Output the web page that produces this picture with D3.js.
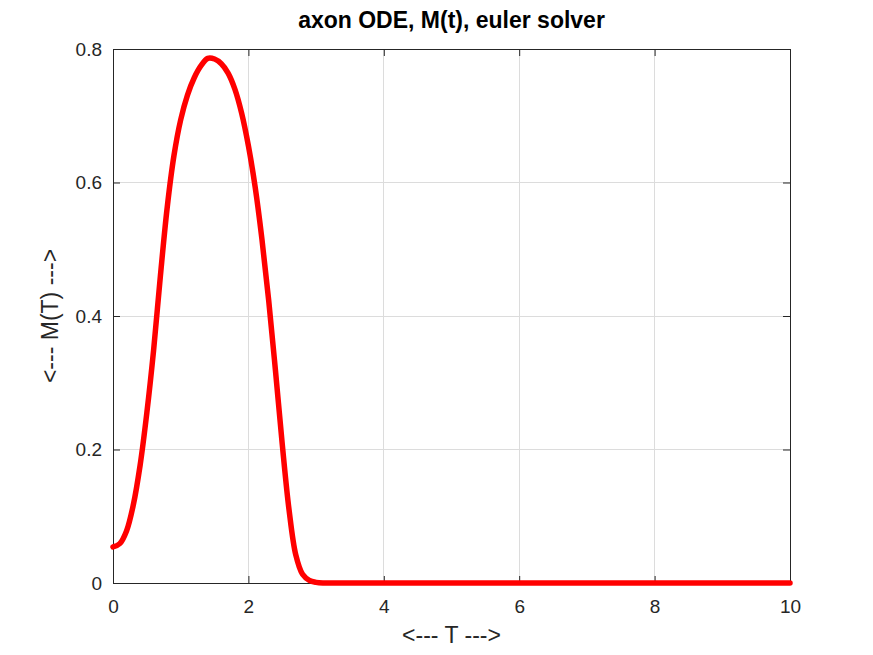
<!DOCTYPE html>
<html><head><meta charset="utf-8">
<script src="https://cdn.jsdelivr.net/npm/d3@7"></script>
<style>body{margin:0;background:#fff}svg{display:block}</style>
</head><body>
<script>
const tVals = [0,0.1,0.2,0.3,0.4,0.5,0.6,0.7,0.8,0.9,1.0,1.1,1.2,1.3,1.4,1.5,1.6,1.7,1.8,1.9,2.0,2.1,2.2,2.3,2.4,2.5,2.6,2.7,2.8,2.9,3.0,3.1,3.5,10];
const mVals = [0.054,0.059,0.078,0.117,0.176,0.255,0.349,0.460,0.562,0.640,0.694,0.731,0.757,0.775,0.786,0.785,0.778,0.764,0.740,0.704,0.655,0.593,0.515,0.423,0.318,0.208,0.110,0.042,0.013,0.004,0.001,0,0,0];
const xTicks = [0,2,4,6,8,10];
const yTicks = [0,0.2,0.4,0.6,0.8];
const title = "axon ODE, M(t), euler solver";
const xLabel = "<--- T --->";
const yLabel = "<--- M(T) --->";

const W=873,H=655, L=113,R=790,T=49,B=583;
const svg=d3.select("body").append("svg").attr("width",W).attr("height",H);
const x=d3.scaleLinear().domain([0,10]).range([L,R]);
const y=d3.scaleLinear().domain([0,0.8]).range([B,T]);
const font="'Liberation Sans', Arial, sans-serif";

// grid
svg.append("g").selectAll("line").data(xTicks).join("line")
  .attr("x1",d=>x(d)).attr("x2",d=>x(d)).attr("y1",T).attr("y2",B)
  .attr("stroke","#dcdcdc").attr("stroke-width",1).attr("shape-rendering","crispEdges");
svg.append("g").selectAll("line").data(yTicks).join("line")
  .attr("y1",d=>y(d)).attr("y2",d=>y(d)).attr("x1",L).attr("x2",R)
  .attr("stroke","#dcdcdc").attr("stroke-width",1).attr("shape-rendering","crispEdges");

// axes
const ax=(g)=>g.selectAll("path,line").attr("stroke","#262626");
const xb=svg.append("g").attr("transform",`translate(0,${B})`)
  .call(d3.axisBottom(x).tickValues(xTicks).tickSizeInner(-7).tickSizeOuter(0).tickPadding(17).tickFormat(d3.format("d")));
const xt=svg.append("g").attr("transform",`translate(0,${T})`)
  .call(d3.axisTop(x).tickValues(xTicks).tickSizeInner(-7).tickSizeOuter(0).tickFormat(""));
const yl=svg.append("g").attr("transform",`translate(${L},0)`)
  .call(d3.axisLeft(y).tickValues(yTicks).tickSizeInner(-7).tickSizeOuter(0).tickPadding(11).tickFormat(d=>d===0?"0":d3.format(".1f")(d)));
const yr=svg.append("g").attr("transform",`translate(${R},0)`)
  .call(d3.axisRight(y).tickValues(yTicks).tickSizeInner(-7).tickSizeOuter(0).tickFormat(""));
[xb,xt,yl,yr].forEach(g=>{ax(g);g.selectAll("text").attr("font-family",font).attr("font-size",19).attr("fill","#262626");});

// line
svg.append("path").datum(tVals.map((t,i)=>[t,mVals[i]]))
  .attr("fill","none").attr("stroke","#ff0000").attr("stroke-width",5.5).attr("stroke-linejoin","round").attr("stroke-linecap","round")
  .attr("d",d3.line().x(d=>x(d[0])).y(d=>y(d[1])).curve(d3.curveCatmullRom.alpha(0.5)));

// title & labels
svg.append("text").attr("x",(L+R)/2).attr("y",28).attr("text-anchor","middle")
  .attr("font-family",font).attr("font-weight","bold").attr("font-size",23).attr("fill","#000").text(title);
svg.append("text").attr("x",(L+R)/2).attr("y",643).attr("text-anchor","middle")
  .attr("font-family",font).attr("font-size",23).attr("fill","#262626").text(xLabel);
svg.append("text").attr("transform",`translate(58,${(T+B)/2}) rotate(-90)`).attr("text-anchor","middle")
  .attr("font-family",font).attr("font-size",23).attr("fill","#262626").text(yLabel);
</script>
</body></html>
